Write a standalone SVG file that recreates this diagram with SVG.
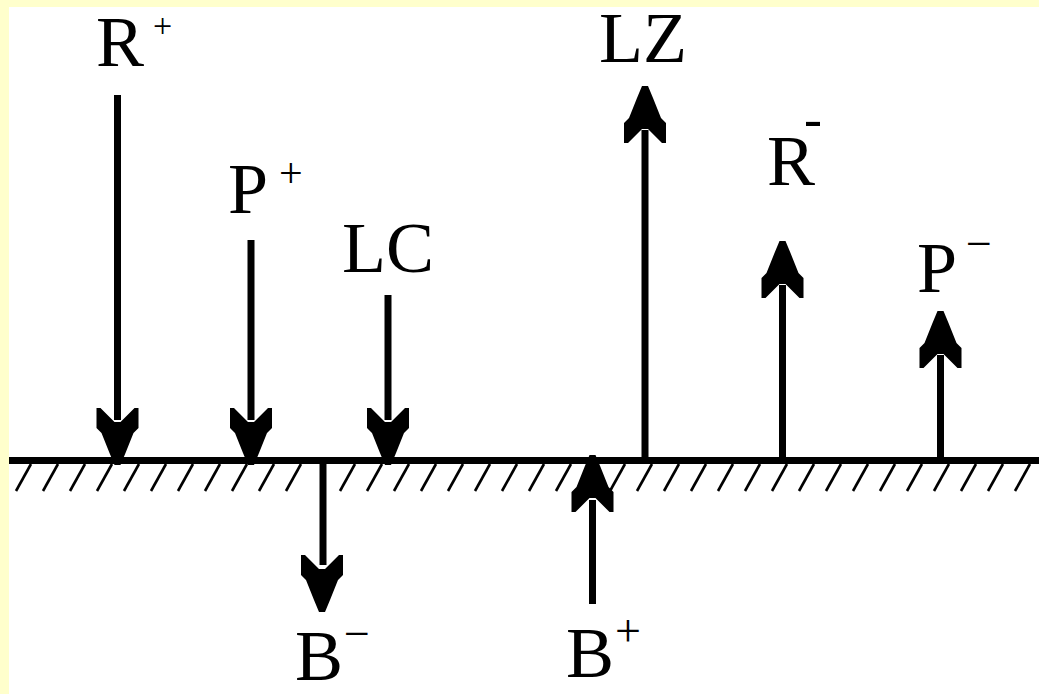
<svg xmlns="http://www.w3.org/2000/svg" xmlns:xlink="http://www.w3.org/1999/xlink" width="1039" height="694" viewBox="0 0 1039 694">
  <style>
    .lbl { font-family: "Liberation Serif", "Times New Roman", serif; font-size: 72px; fill: #000; }
    .shaft { stroke: #000; stroke-width: 7; fill: none; }
    .hatch { stroke: #000; stroke-width: 2.6; fill: none; }
  </style>
  <defs>
    <polygon id="headDown" points="-21,0 -17,0 -3,14 3,14 17,0 21,0 21,20 16,25 8,45 3,57 -3,57 -8,45 -16,25 -21,20" fill="#000"/>
  </defs>
  <rect x="0" y="0" width="1039" height="694" fill="#FFFFCC"/>
  <rect x="9" y="7" width="1030" height="687" fill="#FFFFFF"/>

  <g id="ground">
    <rect x="9" y="457" width="1030" height="7" fill="#000"/>
    <g id="hatching">
      <line class="hatch" x1="16" y1="491" x2="31" y2="464"/>
      <line class="hatch" x1="43" y1="491" x2="58" y2="464"/>
      <line class="hatch" x1="70" y1="491" x2="85" y2="464"/>
      <line class="hatch" x1="97" y1="491" x2="112" y2="464"/>
      <line class="hatch" x1="124" y1="491" x2="139" y2="464"/>
      <line class="hatch" x1="151" y1="491" x2="166" y2="464"/>
      <line class="hatch" x1="178" y1="491" x2="193" y2="464"/>
      <line class="hatch" x1="205" y1="491" x2="220" y2="464"/>
      <line class="hatch" x1="232" y1="491" x2="247" y2="464"/>
      <line class="hatch" x1="259" y1="491" x2="274" y2="464"/>
      <line class="hatch" x1="286" y1="491" x2="301" y2="464"/>
      <line class="hatch" x1="340" y1="491" x2="355" y2="464"/>
      <line class="hatch" x1="367" y1="491" x2="382" y2="464"/>
      <line class="hatch" x1="394" y1="491" x2="409" y2="464"/>
      <line class="hatch" x1="421" y1="491" x2="436" y2="464"/>
      <line class="hatch" x1="448" y1="491" x2="463" y2="464"/>
      <line class="hatch" x1="475" y1="491" x2="490" y2="464"/>
      <line class="hatch" x1="502" y1="491" x2="517" y2="464"/>
      <line class="hatch" x1="529" y1="491" x2="544" y2="464"/>
      <line class="hatch" x1="556" y1="491" x2="571" y2="464"/>
      <line class="hatch" x1="583" y1="491" x2="598" y2="464"/>
      <line class="hatch" x1="610" y1="491" x2="625" y2="464"/>
      <line class="hatch" x1="637" y1="491" x2="652" y2="464"/>
      <line class="hatch" x1="664" y1="491" x2="679" y2="464"/>
      <line class="hatch" x1="691" y1="491" x2="706" y2="464"/>
      <line class="hatch" x1="718" y1="491" x2="733" y2="464"/>
      <line class="hatch" x1="745" y1="491" x2="760" y2="464"/>
      <line class="hatch" x1="772" y1="491" x2="787" y2="464"/>
      <line class="hatch" x1="799" y1="491" x2="814" y2="464"/>
      <line class="hatch" x1="826" y1="491" x2="841" y2="464"/>
      <line class="hatch" x1="853" y1="491" x2="868" y2="464"/>
      <line class="hatch" x1="880" y1="491" x2="895" y2="464"/>
      <line class="hatch" x1="907" y1="491" x2="922" y2="464"/>
      <line class="hatch" x1="934" y1="491" x2="949" y2="464"/>
      <line class="hatch" x1="961" y1="491" x2="976" y2="464"/>
      <line class="hatch" x1="988" y1="491" x2="1003" y2="464"/>
      <line class="hatch" x1="1015" y1="491" x2="1030" y2="464"/>
    </g>
  </g>

  <g id="connectors">
    <g id="arrow-Rplus">
      <line class="shaft" x1="117.5" y1="95" x2="117.5" y2="420"/>
      <use xlink:href="#headDown" transform="translate(117.5,408)"/>
    </g>
    <g id="arrow-Pplus">
      <line class="shaft" x1="251" y1="240" x2="251" y2="420"/>
      <use xlink:href="#headDown" transform="translate(251,408)"/>
    </g>
    <g id="arrow-LC">
      <line class="shaft" x1="388" y1="295" x2="388" y2="420"/>
      <use xlink:href="#headDown" transform="translate(388,408)"/>
    </g>
    <g id="arrow-Bminus">
      <line class="shaft" x1="323" y1="460" x2="323" y2="565"/>
      <use xlink:href="#headDown" transform="translate(322,555)"/>
    </g>
    <g id="arrow-Bplus">
      <line class="shaft" x1="592.5" y1="500" x2="592.5" y2="604"/>
      <use xlink:href="#headDown" transform="translate(592.5,512) scale(1,-1)"/>
    </g>
    <g id="arrow-LZ">
      <line class="shaft" x1="645" y1="130" x2="645" y2="460"/>
      <use xlink:href="#headDown" transform="translate(645,143) scale(1,-1)"/>
    </g>
    <g id="arrow-Rminus">
      <line class="shaft" x1="782.5" y1="285" x2="782.5" y2="460"/>
      <use xlink:href="#headDown" transform="translate(782.5,298) scale(1,-1)"/>
    </g>
    <g id="arrow-Pminus">
      <line class="shaft" x1="940.5" y1="355" x2="940.5" y2="460"/>
      <use xlink:href="#headDown" transform="translate(940.5,368) scale(1,-1)"/>
    </g>
  </g>

  <g id="label-Rplus">
    <text class="lbl" x="96" y="66">R<tspan x="153" y="37" font-size="34">+</tspan></text>
  </g>
  <g id="label-Pplus">
    <text class="lbl" x="228" y="213">P<tspan x="279" y="187" font-size="42">+</tspan></text>
  </g>
  <g id="label-LC">
    <text class="lbl" x="342" y="272">LC</text>
  </g>
  <g id="label-LZ">
    <text class="lbl" x="599" y="62">LZ</text>
  </g>
  <g id="label-Rminus">
    <text class="lbl" x="767" y="185">R<tspan x="804" y="137" font-size="54">-</tspan></text>
  </g>
  <g id="label-Pminus">
    <text class="lbl" x="917" y="292">P<tspan x="966" y="259" font-size="46">−</tspan></text>
  </g>
  <g id="label-Bminus">
    <text class="lbl" x="295" y="680">B<tspan x="344" y="649" font-size="46">−</tspan></text>
  </g>
  <g id="label-Bplus">
    <text class="lbl" x="566" y="677">B<tspan x="615" y="646" font-size="46">+</tspan></text>
  </g>
</svg>
